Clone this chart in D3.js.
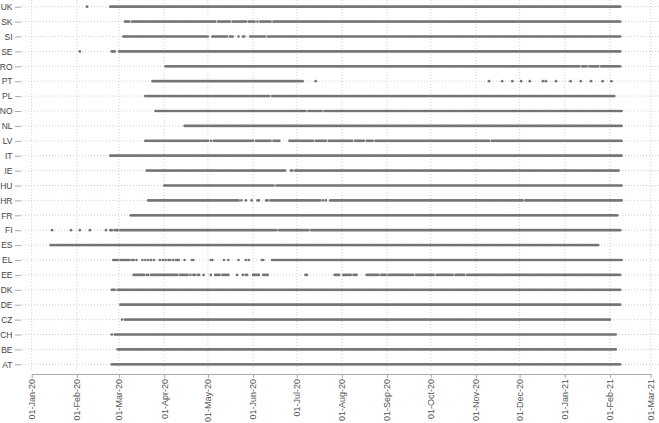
<!DOCTYPE html>
<html>
<head>
<meta charset="utf-8">
<script src="https://cdn.jsdelivr.net/npm/d3@7"></script>
<style>
  body { margin: 0; background: #fff; }
  svg { display: block; }
</style>
</head>
<body>
<script>
// countries, top to bottom
var countries = ["UK","SK","SI","SE","RO","PT","PL","NO","NL","LV","IT","IE","HU","HR","FR","FI","ES","EL","EE","DK","DE","CZ","CH","BE","AT"];

// month ticks on the date axis
var monthTicks = ["2020-01-01","2020-02-01","2020-03-01","2020-04-01","2020-05-01","2020-06-01","2020-07-01",
  "2020-08-01","2020-09-01","2020-10-01","2020-11-01","2020-12-01","2021-01-01","2021-02-01","2021-03-01"];

// periods with daily observations: [country, first day, last day]
var spans = [
  ["UK","2020-02-08","2020-02-08"], ["UK","2020-02-24","2021-02-08"],

  ["SK","2020-03-05","2020-03-08"], ["SK","2020-03-10","2020-05-06"], ["SK","2020-05-08","2020-05-16"],
  ["SK","2020-05-18","2020-05-27"], ["SK","2020-05-29","2020-06-02"], ["SK","2020-06-04","2020-06-04"],
  ["SK","2020-06-06","2020-06-13"], ["SK","2020-06-15","2021-02-08"],

  ["SI","2020-03-04","2020-05-01"], ["SI","2020-05-04","2020-05-14"], ["SI","2020-05-16","2020-05-18"],
  ["SI","2020-05-22","2020-05-22"], ["SI","2020-05-25","2020-05-26"], ["SI","2020-05-30","2020-06-09"],
  ["SI","2020-06-11","2021-02-08"],

  ["SE","2020-02-03","2020-02-03"], ["SE","2020-02-25","2020-02-27"], ["SE","2020-03-01","2021-02-08"],

  ["RO","2020-04-02","2021-01-11"], ["RO","2021-01-13","2021-01-16"], ["RO","2021-01-18","2021-01-24"],
  ["RO","2021-01-26","2021-02-08"],

  ["PT","2020-03-24","2020-07-05"], ["PT","2020-07-14","2020-07-14"], ["PT","2020-11-10","2020-11-10"],
  ["PT","2020-11-19","2020-11-19"], ["PT","2020-11-26","2020-11-26"], ["PT","2020-12-02","2020-12-02"],
  ["PT","2020-12-08","2020-12-08"], ["PT","2020-12-17","2020-12-17"], ["PT","2020-12-19","2020-12-19"],
  ["PT","2020-12-26","2020-12-26"], ["PT","2021-01-05","2021-01-05"], ["PT","2021-01-12","2021-01-12"],
  ["PT","2021-01-19","2021-01-19"], ["PT","2021-01-27","2021-01-27"], ["PT","2021-02-02","2021-02-02"],

  ["PL","2020-03-19","2020-06-12"], ["PL","2020-06-14","2021-02-04"],

  ["NO","2020-03-26","2020-07-07"], ["NO","2020-07-09","2020-07-18"], ["NO","2020-07-20","2021-02-09"],

  ["NL","2020-04-15","2021-02-09"],

  ["LV","2020-03-19","2020-05-01"], ["LV","2020-05-03","2020-05-03"], ["LV","2020-05-05","2020-06-01"],
  ["LV","2020-06-03","2020-06-13"], ["LV","2020-06-15","2020-06-19"], ["LV","2020-06-26","2020-07-12"],
  ["LV","2020-07-14","2020-07-21"], ["LV","2020-07-23","2020-08-08"], ["LV","2020-08-10","2020-08-16"],
  ["LV","2020-08-18","2020-08-22"], ["LV","2020-08-24","2020-11-10"], ["LV","2020-11-12","2021-02-09"],

  ["IT","2020-02-24","2021-02-09"],

  ["IE","2020-03-20","2020-06-23"], ["IE","2020-06-27","2020-06-28"], ["IE","2020-06-30","2021-02-07"],

  ["HU","2020-04-01","2020-06-15"], ["HU","2020-06-17","2021-02-09"],

  ["HR","2020-03-21","2020-05-22"], ["HR","2020-05-24","2020-05-24"], ["HR","2020-05-27","2020-05-27"],
  ["HR","2020-05-31","2020-05-31"], ["HR","2020-06-04","2020-06-05"], ["HR","2020-06-10","2020-06-11"],
  ["HR","2020-06-13","2020-07-17"], ["HR","2020-07-19","2020-07-19"], ["HR","2020-07-21","2020-07-21"],
  ["HR","2020-07-24","2020-12-03"], ["HR","2020-12-05","2021-02-09"],

  ["FR","2020-03-09","2021-02-06"],

  ["FI","2020-01-15","2020-01-15"], ["FI","2020-01-28","2020-01-28"], ["FI","2020-02-03","2020-02-03"],
  ["FI","2020-02-10","2020-02-10"], ["FI","2020-02-21","2020-02-21"], ["FI","2020-02-24","2020-02-25"],
  ["FI","2020-02-27","2020-02-29"], ["FI","2020-03-02","2020-06-17"], ["FI","2020-06-19","2020-07-09"],
  ["FI","2020-07-11","2021-02-08"],

  ["ES","2020-01-14","2021-01-24"],

  ["EL","2020-02-26","2020-02-29"], ["EL","2020-03-02","2020-03-08"], ["EL","2020-03-10","2020-03-11"],
  ["EL","2020-03-13","2020-03-13"], ["EL","2020-03-17","2020-03-17"], ["EL","2020-03-19","2020-03-19"],
  ["EL","2020-03-21","2020-03-21"], ["EL","2020-03-23","2020-03-23"], ["EL","2020-03-25","2020-03-25"],
  ["EL","2020-03-29","2020-03-29"], ["EL","2020-03-31","2020-03-31"], ["EL","2020-04-02","2020-04-02"],
  ["EL","2020-04-04","2020-04-05"], ["EL","2020-04-07","2020-04-07"], ["EL","2020-04-09","2020-04-11"],
  ["EL","2020-04-15","2020-04-15"], ["EL","2020-04-20","2020-04-21"], ["EL","2020-05-03","2020-05-04"],
  ["EL","2020-05-12","2020-05-12"], ["EL","2020-05-15","2020-05-15"], ["EL","2020-05-22","2020-05-22"],
  ["EL","2020-05-27","2020-05-27"], ["EL","2020-05-29","2020-05-29"], ["EL","2020-06-07","2020-06-08"],
  ["EL","2020-06-14","2021-02-09"],

  ["EE","2020-03-11","2020-03-18"], ["EE","2020-03-20","2020-03-21"], ["EE","2020-03-23","2020-04-06"],
  ["EE","2020-04-07","2020-04-10"], ["EE","2020-04-12","2020-04-17"], ["EE","2020-04-19","2020-04-19"],
  ["EE","2020-04-21","2020-04-22"], ["EE","2020-04-24","2020-04-25"], ["EE","2020-04-28","2020-04-28"],
  ["EE","2020-05-03","2020-05-03"], ["EE","2020-05-06","2020-05-09"], ["EE","2020-05-11","2020-05-15"],
  ["EE","2020-05-21","2020-05-21"], ["EE","2020-05-25","2020-05-25"], ["EE","2020-05-27","2020-05-28"],
  ["EE","2020-06-01","2020-06-05"], ["EE","2020-06-08","2020-06-11"], ["EE","2020-07-07","2020-07-08"],
  ["EE","2020-07-27","2020-07-30"], ["EE","2020-08-02","2020-08-07"], ["EE","2020-08-09","2020-08-11"],
  ["EE","2020-08-18","2020-08-23"], ["EE","2020-08-24","2020-08-26"], ["EE","2020-08-28","2020-08-31"],
  ["EE","2020-09-02","2020-09-19"], ["EE","2020-09-21","2020-10-03"], ["EE","2020-10-05","2020-10-16"],
  ["EE","2020-10-18","2020-10-24"], ["EE","2020-10-26","2021-02-08"],

  ["DK","2020-02-25","2020-02-27"], ["DK","2020-02-29","2021-02-08"],

  ["DE","2020-03-02","2021-02-08"],

  ["CZ","2020-03-03","2020-03-03"], ["CZ","2020-03-05","2021-02-01"],

  ["CH","2020-02-25","2020-02-25"], ["CH","2020-02-27","2021-02-05"],

  ["BE","2020-02-29","2021-02-05"],

  ["AT","2020-02-25","2021-02-08"]
];

var width = 659,
    height = 423;

var font = "Liberation Sans, Arial, sans-serif";

var parse = d3.utcParse("%Y-%m-%d");

var x = d3.scaleUtc()
    .domain([parse("2020-01-01"), parse("2021-03-01")])
    .range([31.7, 650.7]);

var y = d3.scalePoint()
    .domain(countries)
    .range([6.7, 364.3]);

var axisY = 374;

var svg = d3.select("body").append("svg")
    .attr("width", width)
    .attr("height", height);

// grid
svg.append("g")
  .selectAll("line")
  .data(monthTicks.map(parse))
  .join("line")
    .attr("x1", d => x(d)).attr("x2", d => x(d))
    .attr("y1", 0).attr("y2", axisY - 2)
    .attr("stroke", "#d0d0d0")
    .attr("stroke-width", 1)
    .attr("stroke-dasharray", "1,2");

svg.append("g")
  .selectAll("line")
  .data(countries)
  .join("line")
    .attr("x1", 22).attr("x2", width)
    .attr("y1", d => y(d)).attr("y2", d => y(d))
    .attr("stroke", "#d0d0d0")
    .attr("stroke-width", 1)
    .attr("stroke-dasharray", "1,2");

// daily observations
var days = [];
spans.forEach(function(s) {
  var from = parse(s[1]), to = d3.utcDay.offset(parse(s[2]), 1);
  d3.utcDay.range(from, to).forEach(function(d) { days.push({c: s[0], d: d}); });
});

svg.append("g")
  .selectAll("circle")
  .data(days)
  .join("circle")
    .attr("cx", d => x(d.d))
    .attr("cy", d => y(d.c))
    .attr("r", 1.35)
    .attr("fill", "#747474");

// x axis
var gx = svg.append("g")
    .attr("transform", "translate(0," + axisY + ")")
    .call(d3.axisBottom(x)
      .tickValues(monthTicks.map(parse))
      .tickFormat(d3.utcFormat("%d-%b-%y"))
      .tickSize(4)
      .tickSizeOuter(0));
gx.select(".domain").attr("stroke", "#a8a8a8");
gx.selectAll(".tick line").attr("stroke", "#a8a8a8");
gx.selectAll(".tick text")
    .attr("transform", "rotate(-90)")
    .attr("text-anchor", "end")
    .attr("x", -5)
    .attr("y", 0)
    .attr("dy", "0.32em")
    .attr("fill", "#555")
    .style("font-family", font)
    .style("font-size", "9px");

// y axis
var gy = svg.append("g")
    .attr("transform", "translate(21,0)")
    .call(d3.axisLeft(y).tickSize(6).tickPadding(2.5));
gy.select(".domain").remove();
gy.selectAll(".tick line").attr("stroke", "#a8a8a8");
gy.selectAll(".tick text")
    .attr("fill", "#444")
    .style("font-family", font)
    .style("font-size", "8.5px");
</script>
</body>
</html>
